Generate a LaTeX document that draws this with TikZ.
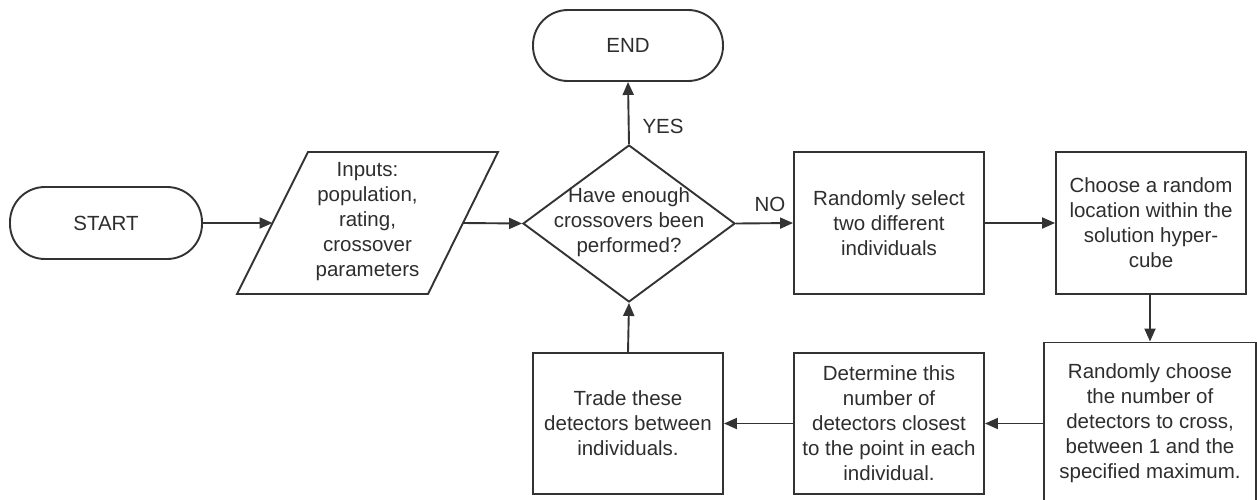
\documentclass[tikz,border=0pt]{standalone}
\usepackage{fontspec}
\setmainfont{Liberation Sans}
\usetikzlibrary{shapes.geometric,arrows.meta}

\definecolor{inkline}{HTML}{333333}
\definecolor{inktext}{HTML}{2E2E2E}

\tikzset{
  base/.style={draw=inkline, line width=1.9pt, text=inktext, align=center,
               font=\fontsize{20.5}{25}\selectfont, inner sep=0pt},
  terminal/.style={base, minimum width=190pt, minimum height=71pt, rounded corners=35pt},
  procbox/.style={base, minimum width=190pt, minimum height=141pt},
  decision/.style={base, shape=diamond, minimum width=212pt, minimum height=157pt},
  label/.style={text=inktext, align=center, font=\fontsize{20.5}{25}\selectfont, inner sep=0pt},
  flow/.style={draw=inkline, line width=1.9pt, -{Triangle[length=13pt,width=11pt]}},
}

\begin{document}
\begin{tikzpicture}[x=1pt, y=-1pt]
  \useasboundingbox (0,0) rectangle (1257,499);
  \clip (0,0) rectangle (1257,499);
  \fill[white] (0,0) rectangle (1257,499);

  % terminals
  \node[terminal, minimum width=192pt, minimum height=72pt] (start) at (106,223) {START};
  \node[terminal] (stop) at (628,45.5) {END};

  % input parallelogram
  \draw[draw=inkline, line width=1.9pt] (308,152) -- (498,152) -- (428,294) -- (237,294) -- cycle;
  \node[label] (inputs) at (367.5,222) {Inputs:\\population,\\rating,\\crossover\\parameters};
  \coordinate (inL) at (272.5,223);
  \coordinate (inR) at (463,223);

  % decision
  \node[decision] (dec) at (629,223.5) {};
  \node[label] (dectext) at (629,222) {Have enough\\crossovers been\\performed?};

  % process steps
  \node[procbox, minimum height=142pt] (select) at (889,223) {Randomly select\\two different\\individuals};
  \node[procbox, minimum height=142pt] (locate) at (1151,223) {Choose a random\\location within the\\solution hyper-\\cube};
  \node[procbox, minimum width=212pt, minimum height=162pt] (count) at (1150,423.5) {Randomly choose\\the number of\\detectors to cross,\\between 1 and the\\specified maximum.};
  \node[procbox] (closest) at (889,423.5) {Determine this\\number of\\detectors closest\\to the point in each\\individual.};
  \node[procbox] (trade) at (628,423.5) {Trade these\\detectors between\\individuals.};

  % connectors
  \draw[flow] (start.east) -- (inL);
  \draw[flow] (inR) -- (dec.west);
  \draw[flow] (dec.north) -- (stop.south);
  \draw[flow] (dec.east) -- (select.west);
  \draw[flow] (select.east) -- (locate.west);
  \draw[flow] (locate.south -| count.north) -- (count.north);
  \draw[flow] (count.west) -- (closest.east);
  \draw[flow] (closest.west) -- (trade.east);
  \draw[flow] (trade.north) -- (dec.south);

  % branch labels
  \node[label] (yes) at (663,126) {YES};
  \node[label] (no) at (770,204) {NO};
\end{tikzpicture}
\end{document}
